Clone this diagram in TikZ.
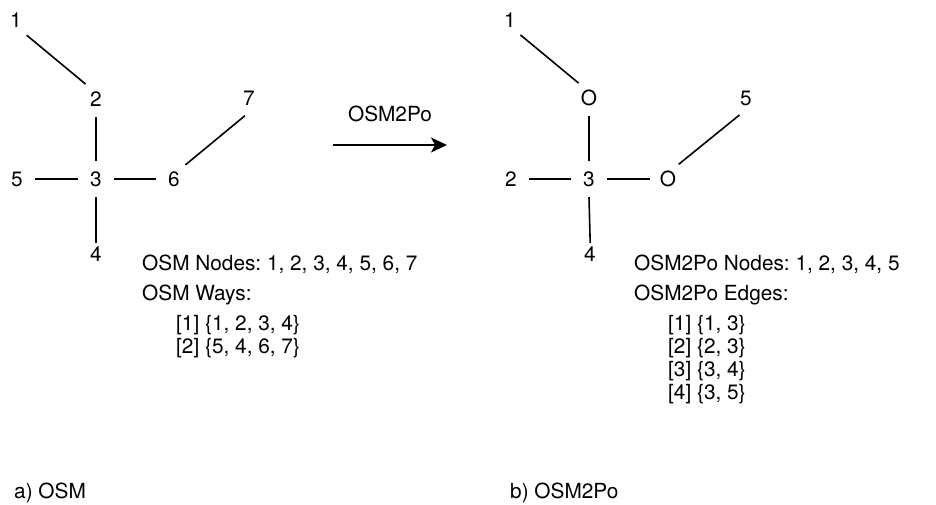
\documentclass[tikz,border=0pt]{standalone}
\usepackage{fontspec}
\setmainfont{TeX Gyre Heros}
\usetikzlibrary{arrows.meta,positioning}
\begin{document}
\frenchspacing
\begin{tikzpicture}[x=1pt,y=-1pt,
  every node/.style={font=\fontsize{20.8pt}{25pt}\selectfont, inner sep=0pt},
  pt/.style={circle, minimum size=36pt},
  edge/.style={line width=1.6pt},
  lbl/.style={anchor=base west},
]
\useasboundingbox (0,0) rectangle (936,504);

% OSM graph: nodes 1..7, ways {1,2,3,4} and {5,4,6,7}
\node[pt] (a1) at (16,20.5) {1};
\node[pt] (a2) at (96,99) {2};
\node[pt] (a3) at (96,179) {3};
\node[pt] (a4) at (96,254) {4};
\node[pt] (a5) at (17,179) {5};
\node[pt] (a6) at (174,179) {6};
\node[pt] (a7) at (249,98) {7};
\draw[edge] (a1.-54) -- (a2.125);
\draw[edge] (a2.south) -- (a3.north);
\draw[edge] (a5.east) -- (a3.west);
\draw[edge] (a3.east) -- (a6.west);
\draw[edge, shorten >=-7pt] (a3.south) -- (a4.north);
\draw[edge] (a6.51) -- (a7.-103);

\node[lbl] (osmnodes) at (142,270.5) {OSM Nodes: 1, 2, 3, 4, 5, 6, 7};
\node[lbl] (osmways) at (142,300.5) {OSM Ways:};
\node[lbl] (way1) at (176,330.5) {[1] \{1, 2, 3, 4\}};
\node[lbl] (way2) at (176,353.5) {[2] \{5, 4, 6, 7\}};

% conversion arrow
\coordinate (arS) at (333,145);
\coordinate (arE) at (447,145);
\draw[edge, -{Stealth[length=16pt,width=15pt,inset=4pt]}] (arS) -- (arE)
  node[midway, above=22pt] (conv) {OSM2Po};

% OSM2Po graph: intermediate nodes collapsed to O
\node[pt] (b1) at (510,20) {1};
\node[pt] (bo1) at (589,98) {O};
\node[pt] (b5) at (746,98) {5};
\node[pt] (b2) at (511,179) {2};
\node[pt] (b3) at (589,179) {3};
\node[pt] (bo2) at (668,179) {O};
\node[pt] (b4) at (590,254) {4};
\draw[edge] (b1.-55) -- (bo1.125);
\draw[edge] (bo1.south) -- (b3.north);
\draw[edge] (b2.east) -- (b3.west);
\draw[edge] (b3.east) -- (bo2.west);
\draw[edge, shorten >=-7pt] (b3.south) -- (b4.north);
\draw[edge] (bo2.54) -- (b5.-111);

\node[lbl] (ponodes) at (634,270.5) {OSM2Po Nodes: 1, 2, 3, 4, 5};
\node[lbl] (poedges) at (634,300.5) {OSM2Po Edges:};
\node[lbl] (edge1) at (668,330.5) {[1] \{1, 3\}};
\node[lbl] (edge2) at (668,353.5) {[2] \{2, 3\}};
\node[lbl] (edge3) at (668,376.5) {[3] \{3, 4\}};
\node[lbl] (edge4) at (668,399.5) {[4] \{3, 5\}};

% captions
\node[lbl] (capa) at (14,498) {a) OSM};
\node[lbl] (capb) at (510,498) {b) OSM2Po};
\end{tikzpicture}
\end{document}
